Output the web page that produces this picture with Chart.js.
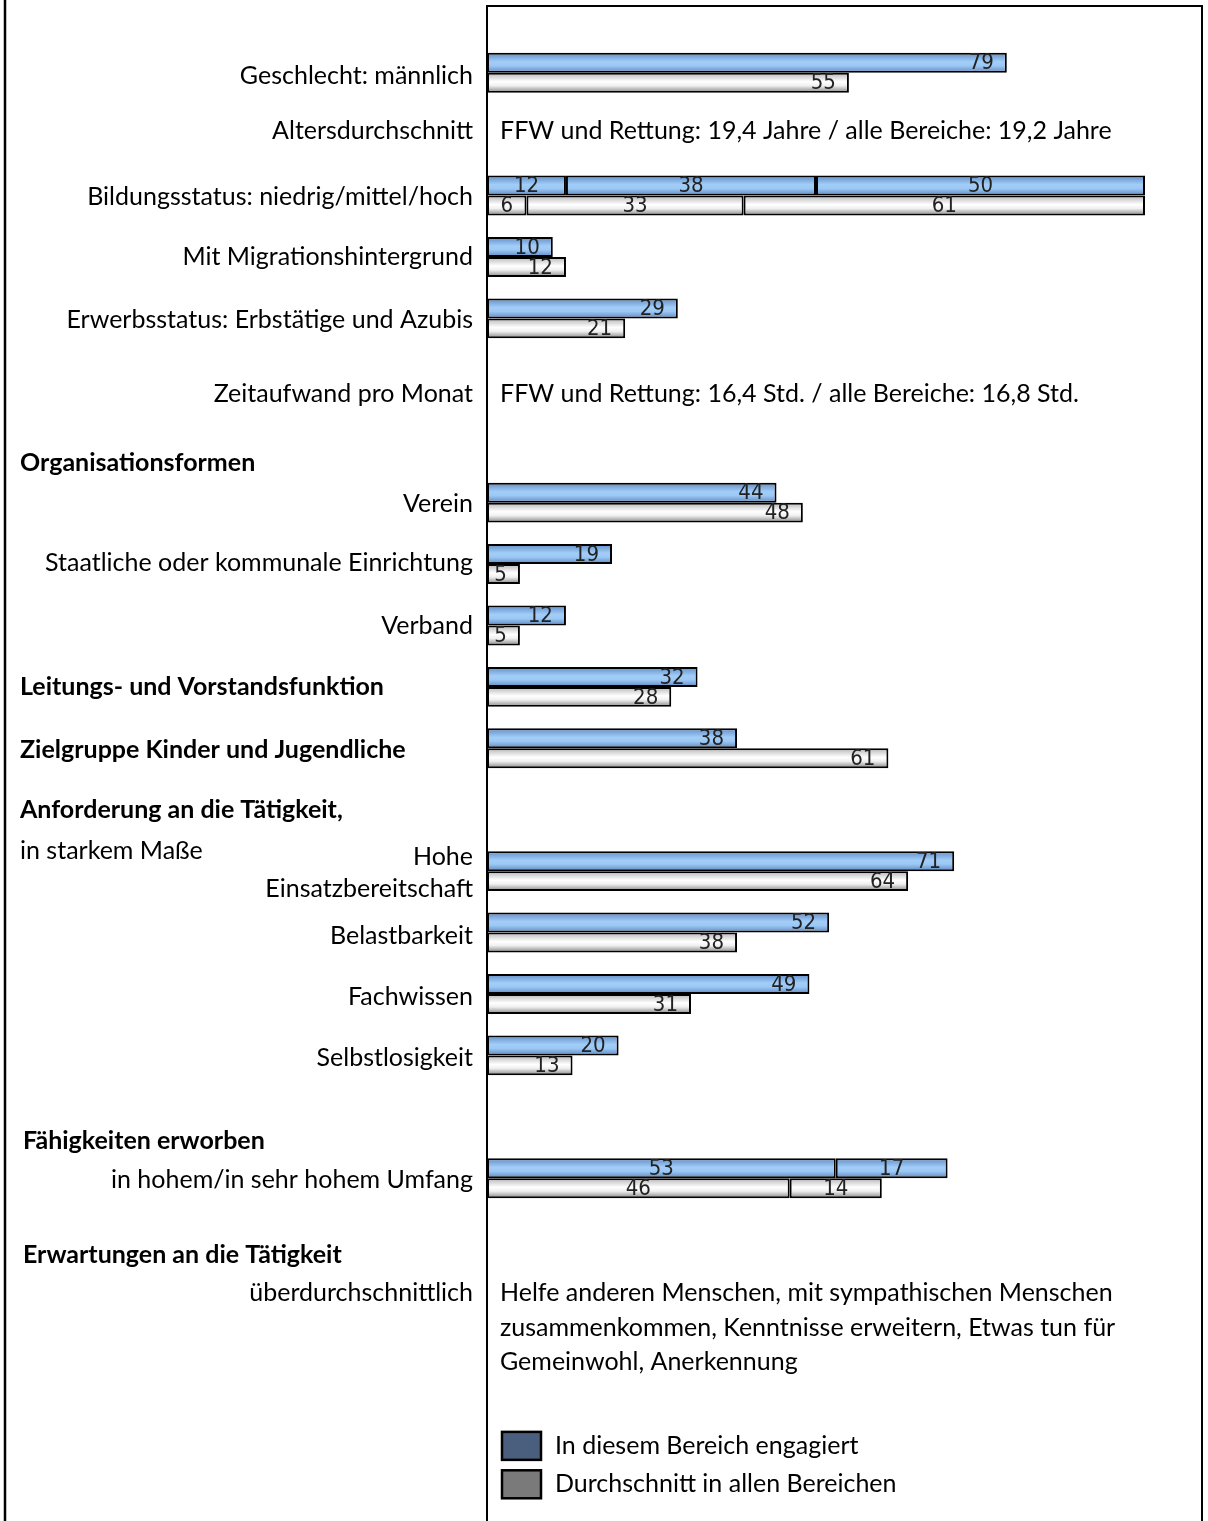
<!DOCTYPE html>
<html><head><meta charset="utf-8">
<script src="https://cdn.jsdelivr.net/npm/chart.js@4.4.1/dist/chart.umd.min.js"></script>
<style>html,body{margin:0;padding:0;background:#fff}#wrap{width:1208px;height:1521px;position:relative}</style>
</head><body><div id="wrap"><canvas id="c" width="1208" height="1521"></canvas></div>
<script>
// ---- data ----
const categories = ["Geschlecht: männlich","Altersdurchschnitt","Bildungsstatus: niedrig/mittel/hoch","Mit Migrationshintergrund","Erwerbsstatus: Erbstätige und Azubis","Zeitaufwand pro Monat","Organisationsformen","Verein","Staatliche oder kommunale Einrichtung","Verband","Leitungs- und Vorstandsfunktion","Zielgruppe Kinder und Jugendliche","Anforderung an die Tätigkeit,","Hohe Einsatzbereitschaft","Belastbarkeit","Fachwissen","Selbstlosigkeit","Fähigkeiten erworben","in hohem/in sehr hohem Umfang","Erwartungen an die Tätigkeit","überdurchschnittlich","","Legende 1","Legende 2"];
const engagiert1    = [79,null,12,10,29,null,null,44,19,12,32,38,null,71,52,49,20,null,53,null,null,null,null,null];
const engagiert2    = [null,null,38,null,null,null,null,null,null,null,null,null,null,null,null,null,null,null,17,null,null,null,null,null];
const engagiert3    = [null,null,50,null,null,null,null,null,null,null,null,null,null,null,null,null,null,null,null,null,null,null,null,null];
const durchschnitt1 = [55,null,6,12,21,null,null,48,5,5,28,61,null,64,38,31,13,null,46,null,null,null,null,null];
const durchschnitt2 = [null,null,33,null,null,null,null,null,null,null,null,null,null,null,null,null,null,null,14,null,null,null,null,null];
const durchschnitt3 = [null,null,61,null,null,null,null,null,null,null,null,null,null,null,null,null,null,null,null,null,null,null,null,null];
const infoAlter = "FFW und Rettung: 19,4 Jahre / alle Bereiche: 19,2 Jahre";
const infoZeit = "FFW und Rettung: 16,4 Std. / alle Bereiche: 16,8 Std.";
const infoErwartungen = ["Helfe anderen Menschen, mit sympathischen Menschen","zusammenkommen, Kenntnisse erweitern, Etwas tun für","Gemeinwohl, Anerkennung"];
const legendLabels = ["In diesem Bereich engagiert","Durchschnitt in allen Bereichen"];

// ---- layout of text (positions only) ----
const leftLabels = [
 {t:categories[0], s:0, dy:3},
 {t:categories[1], s:1, dy:-3},
 {t:categories[2], s:2, dy:1.5},
 {t:categories[3], s:3, dy:0},
 {t:categories[4], s:4, dy:1.5},
 {t:categories[5], s:5, dy:14},
 {t:categories[6], s:6, dy:22, bold:true, x:20},
 {t:categories[7], s:7, dy:1.5},
 {t:categories[8], s:8, dy:-1},
 {t:categories[9], s:9, dy:0},
 {t:categories[10], s:10, dy:0, bold:true, x:20},
 {t:categories[11], s:11, dy:2, bold:true, x:20},
 {t:categories[12], s:12, dy:0, bold:true, x:20},
 {t:"in starkem Maße", s:13, dy:-20, x:20},
 {t:"Hohe", s:13, dy:-14},
 {t:"Einsatzbereitschaft", s:13, dy:18},
 {t:categories[14], s:14, dy:3},
 {t:categories[15], s:15, dy:3},
 {t:categories[16], s:16, dy:3},
 {t:categories[17], s:17, dy:24, bold:true, x:23},
 {t:categories[18], s:18, dy:2},
 {t:categories[19], s:19, dy:15, bold:true, x:23},
 {t:categories[20], s:20, dy:-8}
];
const infoBlocks = [
 {lines:[infoAlter], s:1, dy:-3},
 {lines:[infoZeit], s:5, dy:14},
 {lines:infoErwartungen, s:20, dy:-8, lh:34.5}
];
const FONT = "Lato";
const FSIZE = 25;
const NUMFONT = "22px 'Liberation Sans Narrow','DejaVu Sans Condensed',sans-serif";

function grad(c, kind){
  const fb = kind==='a' ? '#8fbbee' : '#dddddd';
  const ch = c.chart; const ys = ch.scales && ch.scales.y;
  if(!ys || c.dataIndex === undefined) return fb;
  const center = ys.getPixelForValue(c.dataIndex);
  const pitch = ys.getPixelForValue(1) - ys.getPixelForValue(0);
  if(!isFinite(center) || !isFinite(pitch) || pitch <= 0) return fb;
  const h = pitch * 0.65 / 2;
  const top = kind === 'a' ? center - h : center;
  const g = ch.ctx.createLinearGradient(0, top, 0, top + h);
  if(kind === 'a'){
    g.addColorStop(0, '#5f8cc6'); g.addColorStop(0.45, '#a2cdf8'); g.addColorStop(0.65, '#9cc8f5'); g.addColorStop(1, '#5c87c0');
  } else {
    g.addColorStop(0, '#b5b5b5'); g.addColorStop(0.45, '#ffffff'); g.addColorStop(0.65, '#f0f0f0'); g.addColorStop(1, '#828282');
  }
  return g;
}

const decor = {
  id:'decor',
  beforeDatasetsDraw(chart){
    const ctx = chart.ctx; const a = chart.chartArea;
    ctx.save();
    ctx.strokeStyle = '#000'; ctx.lineWidth = 2.5;
    ctx.beginPath(); ctx.moveTo(5, 0); ctx.lineTo(5, chart.height); ctx.stroke();
    ctx.lineWidth = 2;
    ctx.beginPath();
    ctx.moveTo(a.left, chart.height); ctx.lineTo(a.left, 6); ctx.lineTo(1202, 6); ctx.lineTo(1202, chart.height);
    ctx.stroke();
    ctx.restore();
  },
  afterDatasetsDraw(chart){
    const ctx = chart.ctx; const ys = chart.scales.y;
    ctx.save();
    // value labels
    ctx.font = NUMFONT; ctx.fillStyle = '#222'; ctx.textBaseline = 'middle';
    chart.data.datasets.forEach((ds, di) => {
      const meta = chart.getDatasetMeta(di);
      meta.data.forEach((el, i) => {
        const v = ds.data[i]; if(v === null || v === undefined) return;
        const multi = chart.data.datasets.some(d => d.stack === ds.stack && d !== ds && d.data[i] != null);
        if(multi){ ctx.textAlign = 'center'; ctx.fillText(String(v), (el.x + el.base)/2, el.y + 1); }
        else { ctx.textAlign = 'right'; ctx.fillText(String(v), el.x - 13, el.y + 1); }
      });
    });
    // left labels
    ctx.fillStyle = '#000';
    leftLabels.forEach(l => {
      ctx.font = (l.bold ? 'bold ' : '') + FSIZE + 'px ' + FONT;
      const y = ys.getPixelForValue(l.s) + l.dy;
      if(l.x !== undefined){ ctx.textAlign = 'left'; ctx.fillText(l.t, l.x, y); }
      else { ctx.textAlign = 'right'; ctx.fillText(l.t, 473, y); }
    });
    // info blocks
    ctx.font = FSIZE + 'px ' + FONT; ctx.textAlign = 'left';
    infoBlocks.forEach(b => {
      const y0 = ys.getPixelForValue(b.s) + b.dy;
      b.lines.forEach((ln, k) => ctx.fillText(ln, 500, y0 + k * (b.lh || 0)));
    });
    // legend
    const fills = ['#4a5f7d', '#7a7a7a'];
    const ly = [ys.getPixelForValue(22) + 22, ys.getPixelForValue(23) - 1];
    legendLabels.forEach((t, k) => {
      ctx.fillStyle = fills[k]; ctx.fillRect(502, ly[k] - 14, 39, 28);
      ctx.strokeStyle = '#000'; ctx.lineWidth = 2.5; ctx.strokeRect(502, ly[k] - 14, 39, 28);
      ctx.fillStyle = '#000'; ctx.fillText(t, 555, ly[k]);
    });
    ctx.restore();
  }
};

const common = {borderColor:'#000', borderWidth:2, borderSkipped:false, categoryPercentage:0.65, barPercentage:1};
const chart = new Chart(document.getElementById('c'), {
  type:'bar',
  data:{
    labels: categories,
    datasets:[
      Object.assign({label:legendLabels[0], data:engagiert1, stack:'a', backgroundColor:c=>grad(c,'a')}, common),
      Object.assign({label:legendLabels[0]+' 2', data:engagiert2, stack:'a', backgroundColor:c=>grad(c,'a')}, common),
      Object.assign({label:legendLabels[0]+' 3', data:engagiert3, stack:'a', backgroundColor:c=>grad(c,'a')}, common),
      Object.assign({label:legendLabels[1], data:durchschnitt1, stack:'b', backgroundColor:c=>grad(c,'b')}, common),
      Object.assign({label:legendLabels[1]+' 2', data:durchschnitt2, stack:'b', backgroundColor:c=>grad(c,'b')}, common),
      Object.assign({label:legendLabels[1]+' 3', data:durchschnitt3, stack:'b', backgroundColor:c=>grad(c,'b')}, common)
    ]
  },
  options:{
    indexAxis:'y', responsive:false, animation:false, maintainAspectRatio:false,
    layout:{padding:{left:487, right:63, top:42, bottom:5}},
    scales:{
      x:{type:'linear', min:0, max:100, stacked:true, display:false},
      y:{type:'category', stacked:true, display:false}
    },
    plugins:{legend:{display:false}, tooltip:{enabled:false}}
  },
  plugins:[decor]
});
chart.update();
</script></body></html>
